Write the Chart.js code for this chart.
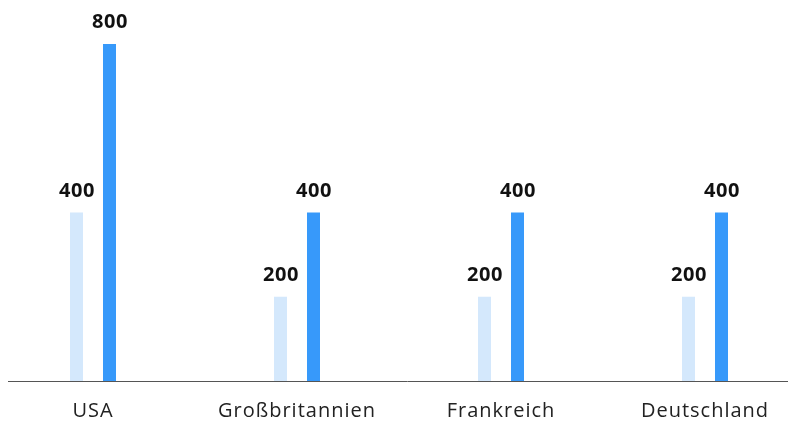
<!DOCTYPE html>
<html>
<head>
<meta charset="utf-8">
<script src="https://cdn.jsdelivr.net/npm/chart.js@4"></script>
<style>
html,body{margin:0;padding:0;background:#fff;overflow:hidden;}
#wrap{width:788px;height:421px;overflow:hidden;position:relative;}
#c{position:absolute;left:-9px;top:0;}
</style>
</head>
<body>
<div id="wrap"><canvas id="c" width="816" height="421"></canvas></div>
<script>
const categories = ["USA", "Großbritannien", "Frankreich", "Deutschland"];
const seriesLight = [400, 200, 200, 200];
const seriesDark = [800, 400, 400, 400];

const CANVAS_SHIFT = 9;

const spacing = {
  id: 'spacing',
  beforeDraw(chart) { chart.ctx.letterSpacing = '1px'; },
  afterDraw(chart) { chart.ctx.letterSpacing = '0px'; }
};
const valueLabels = {
  id: 'valueLabels',
  afterDatasetsDraw(chart) {
    const ctx = chart.ctx;
    ctx.save();
    ctx.letterSpacing = '0.5px';
    ctx.font = 'bold 20px "Open Sans", sans-serif';
    ctx.fillStyle = '#111';
    ctx.textAlign = 'center';
    ctx.textBaseline = 'alphabetic';
    chart.data.datasets.forEach((ds, di) => {
      const meta = chart.getDatasetMeta(di);
      meta.data.forEach((bar, i) => {
        ctx.fillText(String(ds.data[i]), bar.x + 0.5, bar.y - 16);
      });
    });
    ctx.restore();
  }
};
const baseline = {
  id: 'baseline',
  afterDatasetsDraw(chart) {
    const ctx = chart.ctx;
    const y = Math.round(chart.scales.y.getPixelForValue(0)) + 0.5;
    ctx.save();
    ctx.strokeStyle = '#555';
    ctx.lineWidth = 1;
    ctx.beginPath();
    ctx.moveTo(8 + CANVAS_SHIFT, y);
    ctx.lineTo(chart.width, y);
    ctx.stroke();
    ctx.restore();
  }
};

new Chart(document.getElementById('c'), {
  type: 'bar',
  data: {
    labels: categories,
    datasets: [
      { data: seriesLight, backgroundColor: '#d4e8fc', categoryPercentage: 0.3235, barPercentage: 0.394 },
      { data: seriesDark, backgroundColor: '#3799fa', categoryPercentage: 0.3235, barPercentage: 0.394 }
    ]
  },
  options: {
    responsive: false,
    animation: false,
    layout: { padding: { left: 0, right: 0, top: 44, bottom: 0 } },
    plugins: { legend: { display: false }, tooltip: { enabled: false } },
    scales: {
      x: {
        grid: { display: false },
        border: { display: false },
        ticks: { color: '#222', font: { family: '"Open Sans", sans-serif', size: 20 }, padding: 10 },
        afterFit(scale) { scale.height = 40; }
      },
      y: {
        display: false,
        min: 0,
        max: 800
      }
    }
  },
  plugins: [spacing, valueLabels, baseline]
});
</script>
</body>
</html>
